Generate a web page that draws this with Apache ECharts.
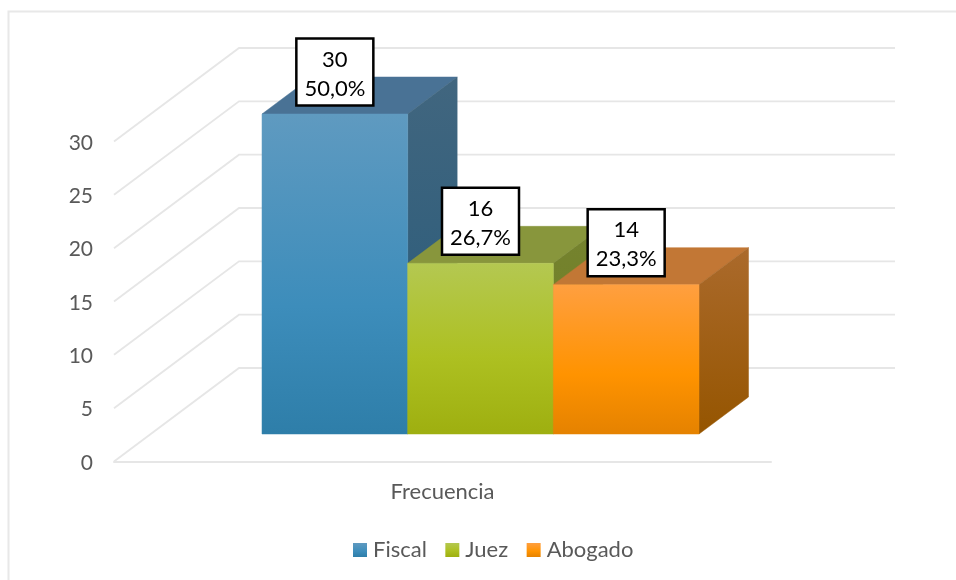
<!DOCTYPE html>
<html>
<head>
<meta charset="utf-8">
<style>html,body{margin:0;padding:0;background:#fff}#c{width:956px;height:580px}</style>
<script src="https://cdn.jsdelivr.net/npm/echarts@6/dist/echarts.min.js"></script>
</head>
<body>
<div id="c"></div>
<script>
const categories = ['Frecuencia'];
const seriesNames = ['Fiscal', 'Juez', 'Abogado'];
const counts = [30, 16, 14];
const percents = ['50,0%', '26,7%', '23,3%'];
const yTicks = [0, 5, 10, 15, 20, 25, 30];

const grad = (stops, x2 = 0, y2 = 1) => new echarts.graphic.LinearGradient(0, 0, x2, y2,
  stops.map(([offset, color]) => ({ offset, color })));

const palette = [
  { front: [[0, '#5f9ac0'], [0.6, '#3d8dbb'], [1, '#2e7ea9']],
    top: '#497295', side: [[0, '#41667f'], [1, '#265a7a']] },
  { front: [[0, '#b4c851'], [0.55, '#adc021'], [1, '#9eaf10']],
    top: '#88963c', side: [[0, '#75832f'], [1, '#6f7d20']] },
  { front: [[0, '#ff9f40'], [0.6, '#ff9300'], [1, '#e58200']],
    top: '#c27735', side: [[0, '#ab6a2c'], [1, '#955500']] }
];

// projection of the floor and wall
const WALL_DX = 125, WALL_DY = -93.5, WALL_RIGHT = 124;
const FLOOR_DX = 38, FLOOR_DY = -27.5;
const DEPTH_DX = 49.5, DEPTH_DY = -37;
const BAR_RATIO = 0.2217;
const BOX_W = 77, BOX_H = 67, BOX_TOP = -75.5;

function renderWall(params, api) {
  const cs = params.coordSys;
  const y = api.coord([0, api.value(0)])[1];
  return {
    type: 'polyline', silent: true,
    shape: { points: [
      [cs.x, y],
      [cs.x + WALL_DX, y + WALL_DY],
      [cs.x + cs.width + WALL_RIGHT, y + WALL_DY]
    ] },
    style: { fill: null, stroke: '#e6e6e6', lineWidth: 1.8 }
  };
}

function barRenderer(idx) {
  const p = palette[idx];
  return function (params, api) {
    const v = api.value(0);
    const center = api.coord([0, v]);
    const base = api.coord([0, 0]);
    const w = api.size([1, 0])[0] * BAR_RATIO;
    const x0 = center[0] + FLOOR_DX + (idx - 1.5) * w;
    const x1 = x0 + w;
    const yT = center[1] + FLOOR_DY;
    const yB = base[1] + FLOOR_DY;
    const poly = (points, fill) => ({ type: 'polygon', shape: { points },
      style: { fill, stroke: fill, lineWidth: 0.5 } });
    const mid = (x0 + x1) / 2;
    return {
      type: 'group',
      children: [
        poly([[x0, yT], [x1, yT], [x1 + DEPTH_DX, yT + DEPTH_DY], [x0 + DEPTH_DX, yT + DEPTH_DY]], p.top),
        poly([[x1, yT], [x1 + DEPTH_DX, yT + DEPTH_DY], [x1 + DEPTH_DX, yB + DEPTH_DY], [x1, yB]], grad(p.side)),
        poly([[x0, yT], [x1, yT], [x1, yB], [x0, yB]], grad(p.front)),
        { type: 'rect',
          shape: { x: mid - BOX_W / 2, y: yT + BOX_TOP, width: BOX_W, height: BOX_H },
          style: { fill: '#fff', stroke: '#000', lineWidth: 2.5 } },
        { type: 'text',
          style: { x: mid, y: yT + BOX_TOP + BOX_H / 2 + 2,
            text: counts[idx] + '\n' + percents[idx],
            align: 'center', verticalAlign: 'middle', lineHeight: 29,
            font: '22px Lato', fill: '#000' } }
      ]
    };
  };
}

const chart = echarts.init(document.getElementById('c'), null, { renderer: 'canvas' });
chart.setOption({
  animation: false,
  backgroundColor: '#fff',
  textStyle: { fontFamily: 'Lato' },
  graphic: [{ type: 'polyline', silent: true,
    shape: { points: [[8.5, 580], [8.5, 11.5], [956, 11.5]] },
    style: { fill: null, stroke: '#e8e8e8', lineWidth: 2 } }],
  grid: { left: 114, right: 185, top: 141.5, height: 320, containLabel: false },
  xAxis: { type: 'category', data: categories,
    axisLine: { lineStyle: { color: '#e6e6e6', width: 2 } },
    axisTick: { show: false },
    axisLabel: { color: '#595959', fontSize: 22, margin: 19 } },
  yAxis: { type: 'value', min: 0, max: 30, interval: 5,
    splitLine: { show: false }, axisLine: { show: false }, axisTick: { show: false },
    axisLabel: { margin: 21, formatter: '{n|{value}}',
      rich: { n: { color: '#595959', fontSize: 21, padding: [3, 0, 0, 0] } } } },
  legend: { data: seriesNames, left: 348, top: 534, itemWidth: 14, itemHeight: 14, itemGap: 18.5,
    icon: 'rect', textStyle: { color: '#595959', fontSize: 22, padding: [0, 0, 0, 1] } },
  series: [
    { type: 'custom', name: 'wall', silent: true, z: 1, renderItem: renderWall,
      data: yTicks.map(v => [v]), encode: { y: 0 } }
  ].concat(seriesNames.map((name, i) => ({
    type: 'custom', name, z: 2 + i, renderItem: barRenderer(i),
    itemStyle: { color: grad(palette[i].front) },
    data: [[counts[i]]], encode: { y: 0 }
  })))
});
</script>
</body>
</html>
